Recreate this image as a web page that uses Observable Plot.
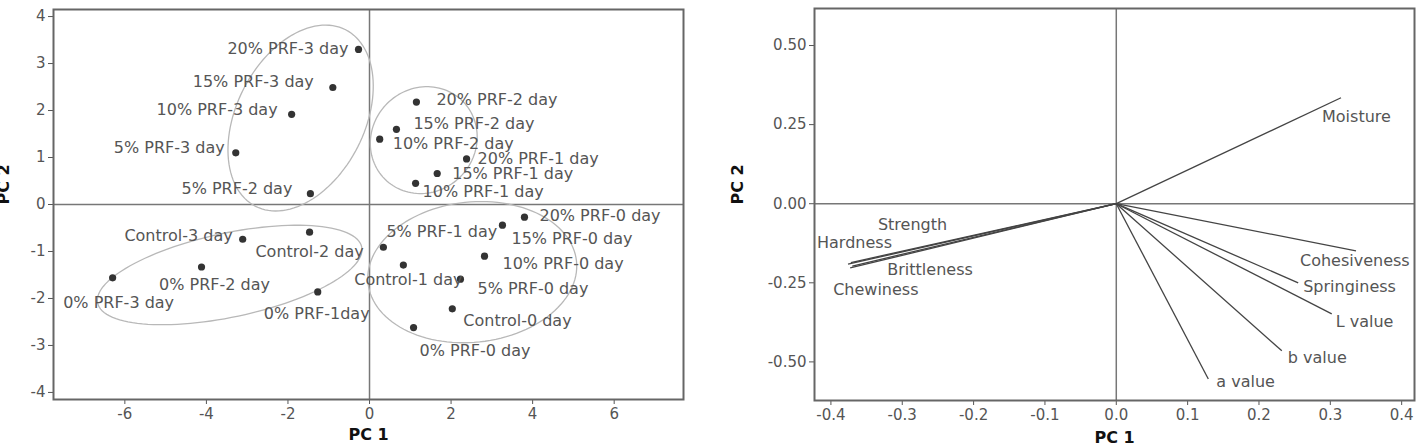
<!DOCTYPE html>
<html>
<head>
<meta charset="utf-8">
<script src="https://cdn.jsdelivr.net/npm/d3@7"></script>
<script src="https://cdn.jsdelivr.net/npm/@observablehq/plot@0.6"></script>
<style>
  body { margin: 0; background: #fff; }
  #wrap { display: flex; width: 1425px; height: 443px; overflow: hidden; }
  #wrap svg { flex: none; }
</style>
</head>
<body>
<div id="wrap"></div>
<script>
// ---- Score plot (samples) ----
const sampleNames = [
  "20% PRF-3 day", "15% PRF-3 day", "10% PRF-3 day", "5% PRF-3 day", "5% PRF-2 day",
  "20% PRF-2 day", "15% PRF-2 day", "10% PRF-2 day",
  "20% PRF-1 day", "15% PRF-1 day", "10% PRF-1 day",
  "20% PRF-0 day", "15% PRF-0 day", "10% PRF-0 day", "5% PRF-0 day",
  "5% PRF-1 day", "Control-1 day", "Control-0 day", "0% PRF-0 day",
  "Control-3 day", "Control-2 day", "0% PRF-2 day", "0% PRF-3 day", "0% PRF-1day"
];
const samplePC1 = [
  -0.27, -0.90, -1.91, -3.28, -1.45,
  1.15, 0.66, 0.25,
  2.38, 1.66, 1.13,
  3.80, 3.26, 2.82, 2.23,
  0.34, 0.83, 2.03, 1.08,
  -3.11, -1.47, -4.12, -6.30, -1.27
];
const samplePC2 = [
  3.30, 2.49, 1.92, 1.10, 0.23,
  2.18, 1.60, 1.39,
  0.97, 0.66, 0.45,
  -0.27, -0.44, -1.10, -1.59,
  -0.91, -1.29, -2.22, -2.62,
  -0.74, -0.59, -1.33, -1.56, -1.86
];
// Group ellipses: centre on PC 1 / PC 2, half-axes in PC 1 units, tilt in degrees
const groupCx = [-1.69, 1.33, -3.43, 2.52];
const groupCy = [1.84, 1.37, -1.50, -1.44];
const groupMajor = [2.43, 1.35, 3.31, 2.57];
const groupMinor = [1.57, 1.27, 1.03, 1.72];
const groupTilt = [63, 45, 12, 6];

const scoreXTicks = [-6, -4, -2, 0, 2, 4, 6];
const scoreYTicks = [-4, -3, -2, -1, 0, 1, 2, 3, 4];

// ---- Loading plot (attributes) ----
const attrNames = ["Moisture", "Cohesiveness", "Springiness", "L value", "b value", "a value",
                   "Strength", "Hardness", "Brittleness", "Chewiness"];
const attrPC1 = [0.315, 0.336, 0.255, 0.302, 0.232, 0.129, -0.372, -0.376, -0.370, -0.373];
const attrPC2 = [0.335, -0.149, -0.250, -0.348, -0.465, -0.554, -0.186, -0.191, -0.197, -0.203];

const loadXTicks = [-0.4, -0.3, -0.2, -0.1, 0.0, 0.1, 0.2, 0.3, 0.4];
const loadYTicks = [-0.5, -0.25, 0, 0.25, 0.5];

// Label placement (text anchor and pixel nudges)
const sampleLabelPlace = [
  ["end", -10, -1], ["end", -19, -6], ["end", -14, -4], ["end", -11, -5], ["end", -18, -5],
  ["start", 20, -2], ["start", 17, -5], ["start", 13, 5],
  ["start", 11, 0], ["start", 15, 0], ["start", 7, 9],
  ["start", 15, -1], ["start", 9, 14], ["start", 18, 8], ["start", 17, 10],
  ["start", 3, -15], ["middle", 5, 15], ["start", 11, 12], ["start", 6, 23],
  ["end", -10, -3], ["middle", 0, 20], ["middle", 13, 18], ["middle", 6, 25], ["middle", -1, 22]
];
const attrLabelPlace = [
  [-19, 19], [-56, 10], [5, 4], [4, 8], [6, 7], [8, 3],
  [27, -38], [-31, -21], [35, 4], [-17, 22]
];

const FONT = "DejaVu Sans, Verdana, sans-serif";
const TEXT = "#555";
const dash = (s) => s.replace("\u2212", "-");

// ---------- left chart ----------
const L = {width: 700, height: 443, mt: 9, mr: 17, mb: 44, ml: 53, xd: [-7.75, 7.7], yd: [-4.15, 4.15]};
const samples = sampleNames.map((name, i) => ({name, x: samplePC1[i], y: samplePC2[i]}));

// trace each ellipse outline in data units (tilt is measured on screen)
const pxPerX = (L.width - L.ml - L.mr) / (L.xd[1] - L.xd[0]);
const pxPerY = (L.height - L.mt - L.mb) / (L.yd[1] - L.yd[0]);
const ellipsePts = [];
groupCx.forEach((cx, g) => {
  const a = groupMajor[g], b = groupMinor[g], phi = groupTilt[g] * Math.PI / 180;
  for (let k = 0; k <= 120; k++) {
    const t = (k / 120) * 2 * Math.PI;
    const ox = a * Math.cos(phi) * Math.cos(t) - b * Math.sin(phi) * Math.sin(t);
    const oy = a * Math.sin(phi) * Math.cos(t) + b * Math.cos(phi) * Math.sin(t);
    ellipsePts.push({g, x: cx + ox, y: groupCy[g] + oy * pxPerX / pxPerY});
  }
});

// one text mark per sample so each label keeps its own anchor and offset
const sampleLabels = samples.map((d, i) => Plot.text([d], {
  x: "x", y: "y", text: "name",
  textAnchor: sampleLabelPlace[i][0], dx: sampleLabelPlace[i][1], dy: sampleLabelPlace[i][2],
  fill: TEXT, fontSize: 16
}));

const left = Plot.plot({
  width: L.width, height: L.height,
  marginTop: L.mt, marginRight: L.mr, marginBottom: L.mb, marginLeft: L.ml,
  style: {fontFamily: FONT, fontSize: "15px", color: TEXT, background: "white"},
  x: {domain: L.xd, ticks: scoreXTicks, tickFormat: d => dash(String(d)), label: null, tickSize: 5, tickPadding: 4},
  y: {domain: L.yd, ticks: scoreYTicks, tickFormat: d => dash(String(d)), label: null, tickSize: 5, tickPadding: 3},
  marks: [
    Plot.ruleX([0], {stroke: "#777", strokeWidth: 1.5}),
    Plot.ruleY([0], {stroke: "#777", strokeWidth: 1.5}),
    Plot.line(ellipsePts, {x: "x", y: "y", z: "g", stroke: "#b8b8b8", strokeWidth: 1.3}),
    Plot.dot(samples, {x: "x", y: "y", r: 3.6, fill: "#333", stroke: "none"}),
    ...sampleLabels,
    Plot.frame({stroke: "#666", strokeWidth: 2}),
    Plot.text(["PC 2"], {frameAnchor: "left", dx: -50, rotate: -90, fontWeight: "bold", fill: "#111", fontSize: 16}),
    Plot.text(["PC 1"], {frameAnchor: "bottom", dy: 40, fontWeight: "bold", fill: "#111", fontSize: 16})
  ]
});

// ---------- right chart ----------
const R = {width: 725, height: 443, mt: 8, mr: 11, mb: 43, ml: 114};
const attrs = attrNames.map((name, i) => ({name, x: attrPC1[i], y: attrPC2[i]}));
const attrLabels = attrs.map((d, i) => Plot.text([d], {
  x: "x", y: "y", text: "name", textAnchor: "start",
  dx: attrLabelPlace[i][0], dy: attrLabelPlace[i][1],
  fill: TEXT, fontSize: 16
}));

const right = Plot.plot({
  width: R.width, height: R.height,
  marginTop: R.mt, marginRight: R.mr, marginBottom: R.mb, marginLeft: R.ml,
  style: {fontFamily: FONT, fontSize: "15px", color: TEXT, background: "white"},
  x: {domain: [-0.423, 0.418], ticks: loadXTicks, tickFormat: d => dash(d3.format(".1f")(d)), label: null, tickSize: 5, tickPadding: 4},
  y: {domain: [-0.622, 0.617], ticks: loadYTicks, tickFormat: d => dash(d3.format(".2f")(d)), label: null, tickSize: 5, tickPadding: 3},
  marks: [
    Plot.ruleX([0], {stroke: "#777", strokeWidth: 1.5}),
    Plot.ruleY([0], {stroke: "#777", strokeWidth: 1.5}),
    Plot.link(attrs, {x1: () => 0, y1: () => 0, x2: "x", y2: "y", stroke: "#444", strokeWidth: 1.3}),
    ...attrLabels,
    Plot.frame({stroke: "#666", strokeWidth: 2}),
    Plot.text(["PC 2"], {frameAnchor: "left", dx: -77, rotate: -90, fontWeight: "bold", fill: "#111", fontSize: 16}),
    Plot.text(["PC 1"], {frameAnchor: "bottom", dy: 42, fontWeight: "bold", fill: "#111", fontSize: 16})
  ]
});

document.getElementById("wrap").append(left, right);
</script>
</body>
</html>
